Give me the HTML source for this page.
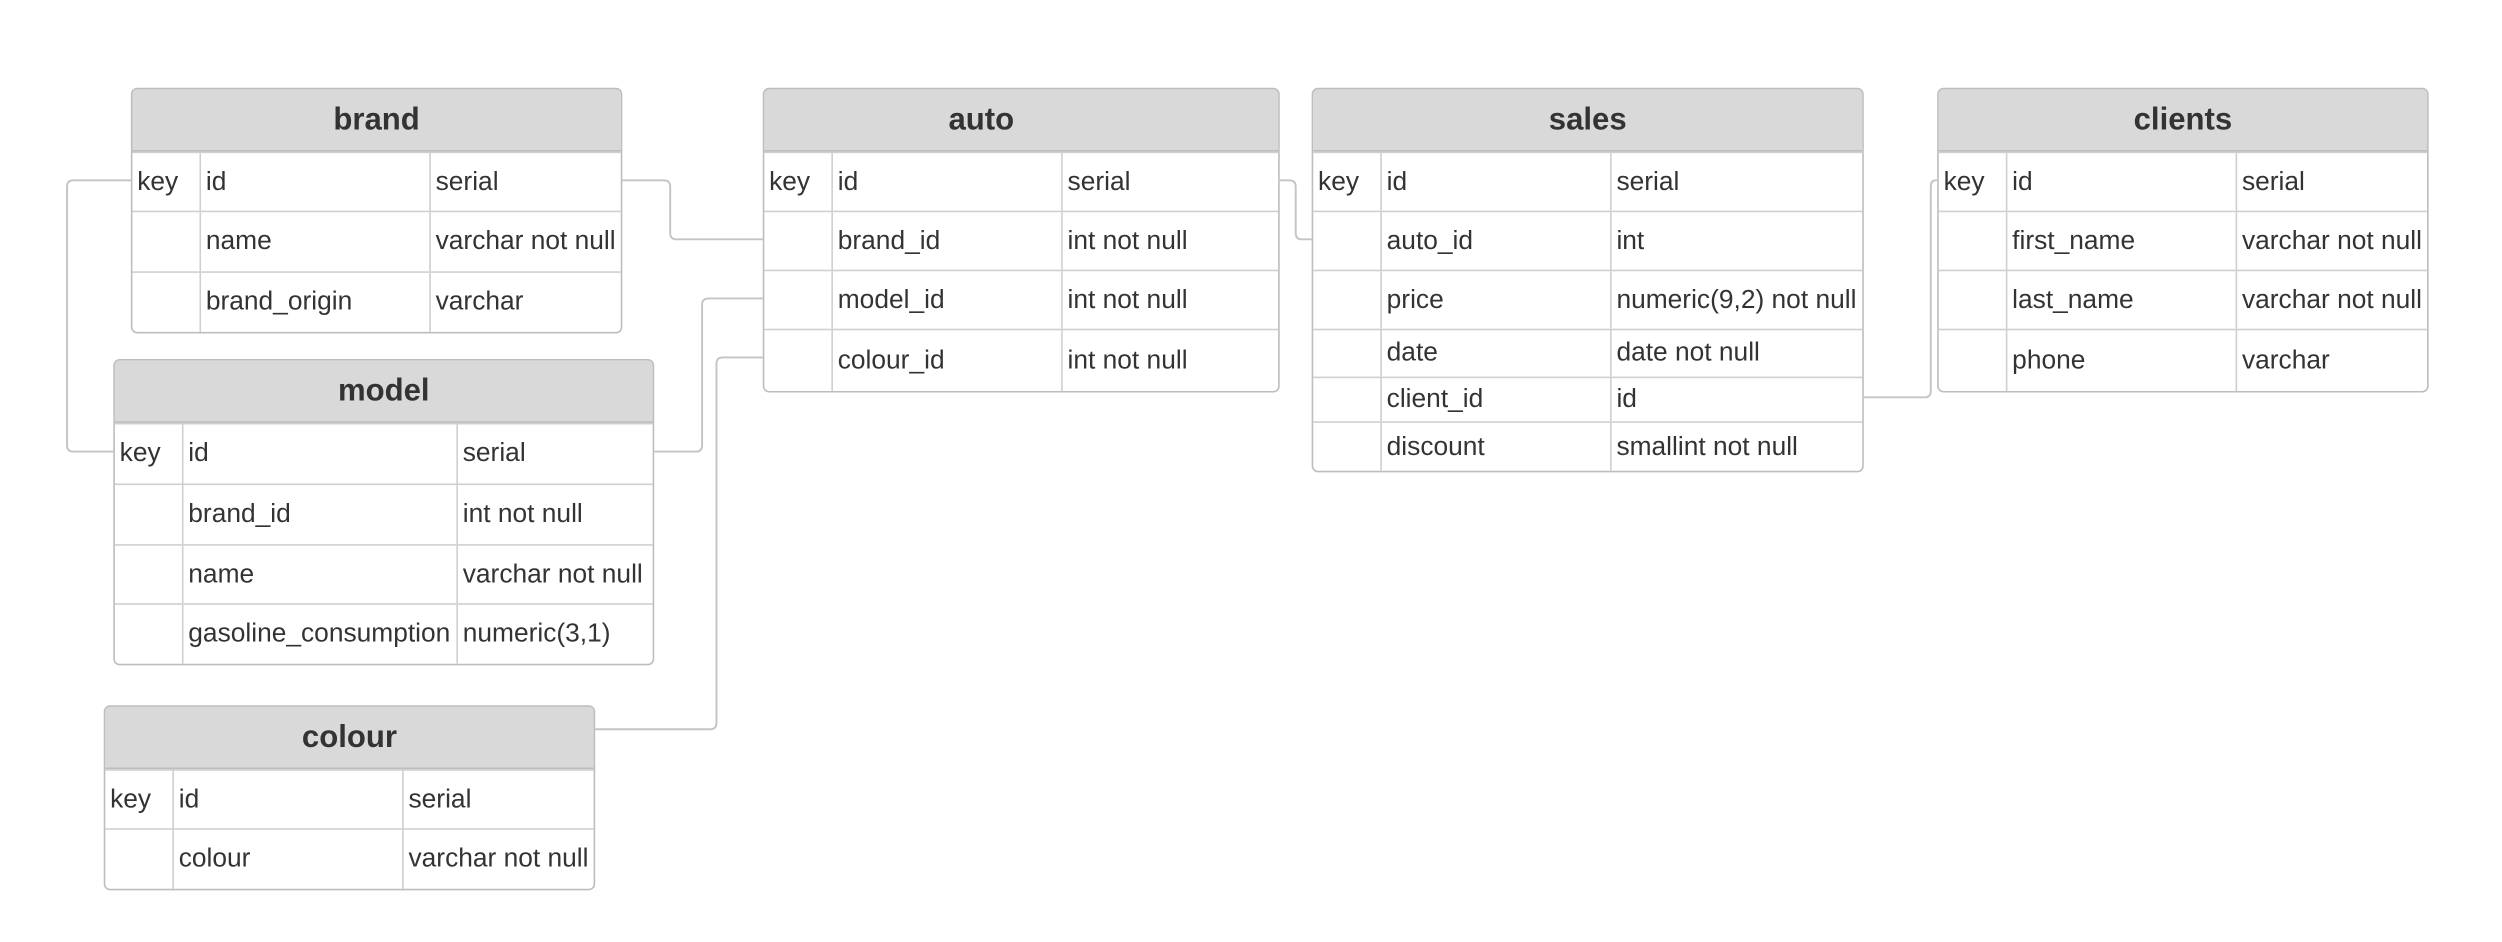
<!DOCTYPE html>
<html><head><meta charset="utf-8"><style>
html,body{margin:0;padding:0;background:#fff;}
#wrap{position:absolute;left:0;top:0;width:1568px;height:590px;transform:scale(1.5957);transform-origin:0 0;font-family:"Liberation Sans",Arial,sans-serif;color:#333;}
.t{position:absolute;border:1px solid #bdbdbd;border-radius:4px;background:#fff;overflow:hidden;box-sizing:border-box;}
.h{background:#d9d9d9;border-bottom:1px solid #bdbdbd;text-align:center;font-weight:bold;font-size:19.5px;box-sizing:border-box;display:flex;align-items:center;justify-content:center;}
.r{display:flex;border-top:1px solid #cfcfcf;box-sizing:border-box;font-size:16.5px;}
.r:first-of-type{border-top:none;}
.r div{box-sizing:border-box;padding-left:3px;display:flex;align-items:center;border-left:1px solid #cfcfcf;white-space:nowrap;}
.r div:first-child{border-left:none;}
svg{position:absolute;left:0;top:0;}
</style></head><body><div id="wrap">
<svg width="1568" height="590" fill="none" stroke="#c4c4c4" stroke-width="1.2">
<path d="M82 113 H46 Q42 113 42 117 V279 Q42 283 46 283 H71"/>
<path d="M390 113 H416 Q420 113 420 117 V146 Q420 150 424 150 H478"/>
<path d="M410 283 H436 Q440 283 440 279 V191 Q440 187 444 187 H478"/>
<path d="M373 457 H445 Q449 457 449 453 V228 Q449 224 453 224 H478"/>
<path d="M802 113 H808 Q812 113 812 117 V146 Q812 150 816 150 H822"/>
<path d="M1168 249 H1206 Q1210 249 1210 245 V117 Q1210 113 1213 113 H1214"/>
</svg>

<div class="t" style="left:82px;top:55px;width:308px;height:154px">
<div class="h" style="height:39px">brand</div>
<div class="r" style="height:37px"><div style="width:42px">key</div><div style="width:144px">id</div><div style="flex:1">serial</div></div>
<div class="r" style="height:38px"><div style="width:42px"></div><div style="width:144px">name</div><div style="flex:1">varchar not null</div></div>
<div class="r" style="height:38px"><div style="width:42px"></div><div style="width:144px">brand_origin</div><div style="flex:1">varchar</div></div>
</div>

<div class="t" style="left:478px;top:55px;width:324px;height:191px">
<div class="h" style="height:39px;padding-right:50px">auto</div>
<div class="r" style="height:37px"><div style="width:42px">key</div><div style="width:144px">id</div><div style="flex:1">serial</div></div>
<div class="r" style="height:37px"><div style="width:42px"></div><div style="width:144px">brand_id</div><div style="flex:1">int not null</div></div>
<div class="r" style="height:37px"><div style="width:42px"></div><div style="width:144px">model_id</div><div style="flex:1">int not null</div></div>
<div class="r" style="height:39px"><div style="width:42px"></div><div style="width:144px">colour_id</div><div style="flex:1">int not null</div></div>
</div>

<div class="t" style="left:822px;top:55px;width:346px;height:241px">
<div class="h" style="height:39px">sales</div>
<div class="r" style="height:37px"><div style="width:42px">key</div><div style="width:144px">id</div><div style="flex:1">serial</div></div>
<div class="r" style="height:37px"><div style="width:42px"></div><div style="width:144px">auto_id</div><div style="flex:1">int</div></div>
<div class="r" style="height:37px"><div style="width:42px"></div><div style="width:144px">price</div><div style="flex:1">numeric(9,2) not null</div></div>
<div class="r" style="height:30px"><div style="width:42px"></div><div style="width:144px">date</div><div style="flex:1">date not null</div></div>
<div class="r" style="height:28px"><div style="width:42px"></div><div style="width:144px">client_id</div><div style="flex:1">id</div></div>
<div class="r" style="height:31px"><div style="width:42px"></div><div style="width:144px">discount</div><div style="flex:1">smallint not null</div></div>
</div>

<div class="t" style="left:1214px;top:55px;width:308px;height:191px">
<div class="h" style="height:39px">clients</div>
<div class="r" style="height:37px"><div style="width:42px">key</div><div style="width:144px">id</div><div style="flex:1">serial</div></div>
<div class="r" style="height:37px"><div style="width:42px"></div><div style="width:144px">first_name</div><div style="flex:1">varchar not null</div></div>
<div class="r" style="height:37px"><div style="width:42px"></div><div style="width:144px">last_name</div><div style="flex:1">varchar not null</div></div>
<div class="r" style="height:39px"><div style="width:42px"></div><div style="width:144px">phone</div><div style="flex:1">varchar</div></div>
</div>

<div class="t" style="left:71px;top:225px;width:339px;height:192px">
<div class="h" style="height:39px">model</div>
<div class="r" style="height:38px"><div style="width:42px">key</div><div style="width:172px">id</div><div style="flex:1">serial</div></div>
<div class="r" style="height:38px"><div style="width:42px"></div><div style="width:172px">brand_id</div><div style="flex:1">int not null</div></div>
<div class="r" style="height:37px"><div style="width:42px"></div><div style="width:172px">name</div><div style="flex:1">varchar not null</div></div>
<div class="r" style="height:38px"><div style="width:42px"></div><div style="width:172px">gasoline_consumption</div><div style="flex:1">numeric(3,1)</div></div>
</div>

<div class="t" style="left:65px;top:442px;width:308px;height:116px">
<div class="h" style="height:39px">colour</div>
<div class="r" style="height:37px"><div style="width:42px">key</div><div style="width:144px">id</div><div style="flex:1">serial</div></div>
<div class="r" style="height:38px"><div style="width:42px"></div><div style="width:144px">colour</div><div style="flex:1">varchar not null</div></div>
</div>
</div></body></html>
